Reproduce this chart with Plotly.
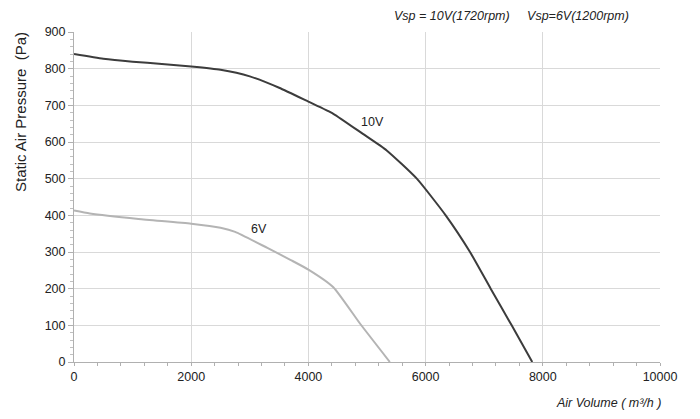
import plotly.graph_objects as go

# Data
air_volume_10v = [0, 500, 1000, 1500, 2000, 2500, 3000, 3500, 4000, 4425, 4930, 5336, 5850, 6343, 6758, 7111, 7469, 7820]
pressure_10v = [840, 827, 819, 813, 806, 797, 779, 748, 710, 677, 622, 577, 500, 400, 300, 200, 100, 0]

air_volume_6v = [0, 270, 1100, 2000, 2500, 2750, 3300, 3700, 4000, 4425, 4880, 5390]
pressure_6v = [413, 405, 390, 377, 366, 355, 311, 278, 252, 204, 105, 0]

x_ticks = [0, 2000, 4000, 6000, 8000, 10000]
y_ticks = [0, 100, 200, 300, 400, 500, 600, 700, 800, 900]

FONT = "Liberation Sans, Arial, sans-serif"
TXT = "#222222"

fig = go.Figure()
fig.add_trace(go.Scatter(x=air_volume_6v, y=pressure_6v, mode="lines",
                         line=dict(color="#b4b4b4", width=2, shape="spline", smoothing=0.5),
                         showlegend=False, hoverinfo="skip"))
fig.add_trace(go.Scatter(x=air_volume_10v, y=pressure_10v, mode="lines",
                         line=dict(color="#3c3c3c", width=2, shape="spline", smoothing=0.5),
                         showlegend=False, hoverinfo="skip"))

# page body has an 8px default margin; figure sized to fit inside the window
fig.update_layout(
    width=684, height=403,
    margin=dict(l=66, r=32, t=24, b=49, pad=0),
    paper_bgcolor="white", plot_bgcolor="white",
    font=dict(family=FONT, size=12.5, color=TXT),
    showlegend=False,
)
fig.update_xaxes(
    range=[0, 10000], tickvals=x_ticks, ticktext=[str(v) for v in x_ticks],
    showgrid=True, gridcolor="#d9d9d9", gridwidth=1,
    showline=True, linecolor="#b0b0b0", linewidth=1,
    ticks="outside", ticklen=3, tickcolor="#b0b0b0",
    minor=dict(dtick=400, tick0=0, ticks="outside", ticklen=3, tickcolor="#b0b0b0", showgrid=False),
    tickfont=dict(size=12.5, color=TXT), zeroline=False, fixedrange=True,
)
fig.update_yaxes(
    range=[0, 900], tickvals=y_ticks, ticktext=[str(v) for v in y_ticks],
    showgrid=True, gridcolor="#d9d9d9", gridwidth=1,
    showline=True, linecolor="#b0b0b0", linewidth=1,
    ticks="outside", ticklen=5, tickcolor="#b0b0b0",
    minor=dict(dtick=20, tick0=0, ticks="outside", ticklen=3, tickcolor="#c0c0c0", showgrid=False),
    tickfont=dict(size=12.5, color=TXT), zeroline=False, fixedrange=True,
)

fig.add_annotation(x=5094, y=654, xref="x", yref="y", text="10V", showarrow=False,
                   font=dict(size=12.5, color=TXT), xanchor="center", yanchor="middle")
fig.add_annotation(x=3152, y=363, xref="x", yref="y", text="6V", showarrow=False,
                   font=dict(size=12.5, color=TXT), xanchor="center", yanchor="middle")

fig.add_annotation(x=(631 - 74) / 586, y=(362 - 16) / 330, xref="paper", yref="paper",
                   text="<i>Vsp = 10V(1720rpm)&nbsp;&nbsp;&nbsp;&nbsp;&nbsp;Vsp=6V(1200rpm)</i>",
                   showarrow=False, xanchor="right", yanchor="middle",
                   font=dict(size=12.5, color=TXT))
fig.add_annotation(x=(663 - 74) / 586, y=(362 - 403) / 330, xref="paper", yref="paper",
                   text="<i>Air Volume ( m³/h )</i>", showarrow=False,
                   xanchor="right", yanchor="middle", font=dict(size=12.5, color=TXT))
fig.add_annotation(x=(20 - 74) / 586, y=(362 - 112) / 330, xref="paper", yref="paper",
                   text="Static Air Pressure&nbsp;&nbsp;(Pa)", textangle=-90, showarrow=False,
                   xanchor="center", yanchor="middle", font=dict(size=15, color=TXT))

fig.write_html("out.html")
